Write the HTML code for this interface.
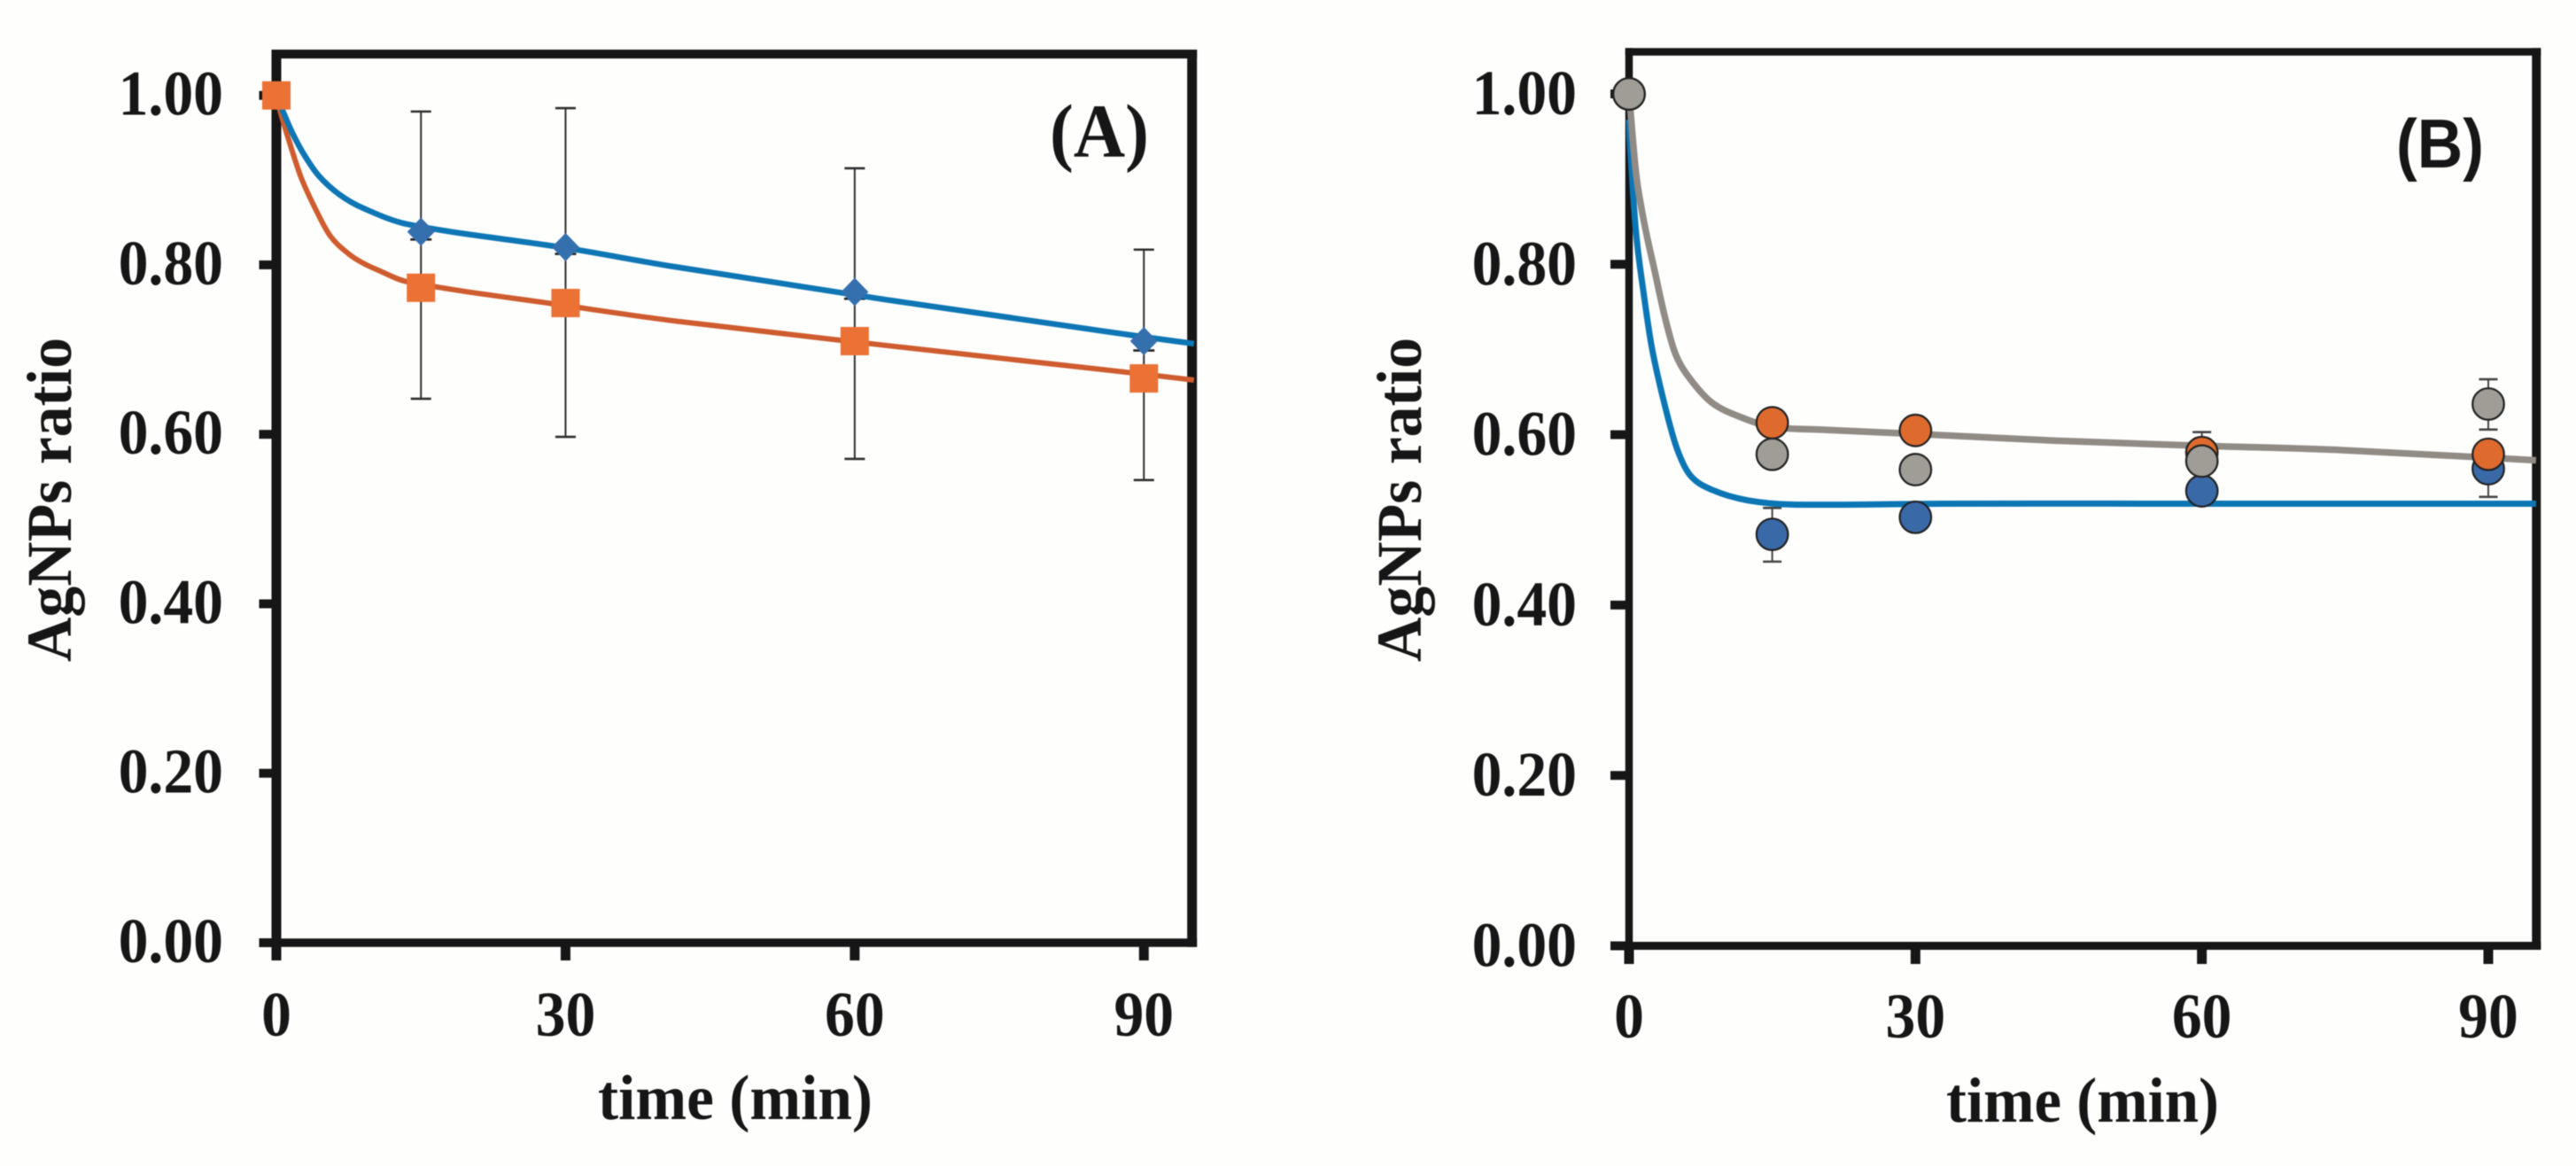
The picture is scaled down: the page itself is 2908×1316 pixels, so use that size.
<!DOCTYPE html>
<html lang="en">
<head>
<meta charset="utf-8">
<title>AgNPs ratio vs time</title>
<style>
html,body{margin:0;padding:0;background:#fefefd;}
body{width:2908px;height:1316px;overflow:hidden;}
svg{display:block;filter:blur(0.6px);}
text{font-family:"Liberation Serif",serif;font-weight:700;fill:#161616;}
</style>
</head>
<body>
<svg id="figure" xmlns="http://www.w3.org/2000/svg" width="2908" height="1316" viewBox="0 0 2908 1316"></svg>
<script>
/* Shared axis data */
const yTickValues = [0, 0.2, 0.4, 0.6, 0.8, 1.0];
const yTickLabels = ['0.00', '0.20', '0.40', '0.60', '0.80', '1.00'];
const xTickValues = [0, 30, 60, 90];
const xTickLabels = ['0', '30', '60', '90'];
const xAxisTitle = 'time (min)';
const yAxisTitle = 'AgNPs ratio';

/* Panel A data */
const timesA = [0, 15, 30, 60, 90];
const diamondValuesA = [1.0, 0.839, 0.821, 0.768, 0.710];
const squareValuesA = [1.0, 0.773, 0.755, 0.710, 0.666];
const errorTimesA = [15, 30, 60, 90];
const errorHighA = [0.981, 0.985, 0.914, 0.818];
const errorLowA = [0.642, 0.597, 0.571, 0.546];
const hiddenCapA = [0.830, 0.813, 0.760, 0.699];
const blueFitTimesA = [0, 0.58, 1.65, 2.88, 4.41, 6.55, 9, 13.6, 30, 41.2, 63.2, 90, 95.2];
const blueFitValuesA = [1.0, 0.984, 0.956, 0.930, 0.905, 0.883, 0.867, 0.848, 0.820, 0.798, 0.759, 0.715, 0.707];
const orangeFitTimesA = [0, 0.43, 1.35, 2.57, 4.1, 5.6, 7.5, 9, 10.5, 13.6, 30, 41.2, 63.2, 90, 95.2];
const orangeFitValuesA = [1.0, 0.980, 0.945, 0.903, 0.865, 0.834, 0.813, 0.802, 0.794, 0.780, 0.752, 0.734, 0.705, 0.671, 0.664];

/* Panel B data */
const timesB = [0, 15, 30, 60, 90];
const blueValuesB = [1.0, 0.483, 0.503, 0.534, 0.560];
const orangeValuesB = [1.0, 0.614, 0.605, 0.579, 0.577];
const greyValuesB = [1.0, 0.577, 0.559, 0.569, 0.636];
const blueErrorHighB = [null, 0.514, null, null, null];
const blueErrorLowB = [null, 0.451, null, null, 0.527];
const orangeErrorHighB = [null, null, null, 0.603, null];
const orangeErrorLowB = [null, null, null, null, null];
const greyErrorHighB = [null, null, null, null, 0.665];
const greyErrorLowB = [null, null, null, null, 0.606];
const blueFitTimesB = [0, 0.09, 0.71, 1.48, 2.41, 3.8, 5.04, 6.43, 8.75, 12.4, 17.2, 33, 60, 95];
const blueFitValuesB = [0.97, 0.944, 0.840, 0.770, 0.701, 0.632, 0.583, 0.552, 0.535, 0.523, 0.518, 0.519, 0.519, 0.519];
const greyFitTimesB = [0, 0.71, 1.33, 1.95, 2.57, 3.8, 4.89, 6.43, 8.75, 11.84, 15, 20, 31.7, 44.7, 60, 74.4, 95];
const greyFitValuesB = [1.0, 0.909, 0.864, 0.829, 0.798, 0.736, 0.694, 0.665, 0.637, 0.620, 0.609, 0.606, 0.600, 0.593, 0.587, 0.582, 0.570];

const NS = 'http://www.w3.org/2000/svg';
const svg = document.getElementById('figure');
const INK = '#161616';

function make(parent, tag, attrs) {
  const el = document.createElementNS(NS, tag);
  for (const k in attrs) el.setAttribute(k, attrs[k]);
  parent.appendChild(el);
  return el;
}

function scales(p) {
  return {
    sx: t => p.x0 + (t / 90) * (p.x90 - p.x0),
    sy: v => p.y0 + v * (p.y1 - p.y0)
  };
}

function smoothPath(xs, ys) {
  let d = 'M' + xs[0].toFixed(2) + ' ' + ys[0].toFixed(2);
  for (let i = 0; i < xs.length - 1; i++) {
    const a = Math.max(i - 1, 0), b = Math.min(i + 2, xs.length - 1);
    const k1 = (xs[i + 1] - xs[i]) / (xs[i + 1] - xs[a]) / 3;
    const k2 = (xs[i + 1] - xs[i]) / (xs[b] - xs[i]) / 3;
    const c1x = xs[i] + (xs[i + 1] - xs[a]) * k1, c1y = ys[i] + (ys[i + 1] - ys[a]) * k1;
    const c2x = xs[i + 1] - (xs[b] - xs[i]) * k2, c2y = ys[i + 1] - (ys[b] - ys[i]) * k2;
    d += 'C' + c1x.toFixed(2) + ' ' + c1y.toFixed(2) + ' ' + c2x.toFixed(2) + ' ' + c2y.toFixed(2) + ' ' + xs[i + 1].toFixed(2) + ' ' + ys[i + 1].toFixed(2);
  }
  return d;
}

function drawAxes(g, p) {
  const s = scales(p);
  const frame = make(g, 'g', {});
  
  
  const left = p.x0, right = p.xR, top = p.yT, bottom = p.y0;
  const w = p.frame;
  make(frame, 'rect', {x: left - w.l / 2, y: top - w.t / 2, width: w.l, height: bottom - top + w.b / 2 + w.t / 2, fill: INK});
  make(frame, 'rect', {x: right - w.r / 2, y: top - w.t / 2, width: w.r, height: bottom - top + w.b / 2 + w.t / 2, fill: INK});
  make(frame, 'rect', {x: left - w.l / 2, y: top - w.t / 2, width: right - left + w.l / 2 + w.r / 2, height: w.t, fill: INK});
  make(frame, 'rect', {x: left - w.l / 2, y: bottom - w.b / 2, width: right - left + w.l / 2 + w.r / 2, height: w.b, fill: INK});

  yTickValues.forEach((v, i) => {
    const tick = make(g, 'rect', {x: p.yTickEnd, y: s.sy(v) - 5, width: p.x0 - p.yTickEnd, height: 10, fill: INK});
    
    
    const label = make(g, 'text', {'text-anchor': 'end', 'font-size': 72, transform: 'translate(' + p.yLabelX + ',' + (s.sy(v) + p.yLabelDy) + ') scale(0.94,1)'});
    label.textContent = yTickLabels[i];
    
    
  });
  xTickValues.forEach((t, i) => {
    const tick = make(g, 'rect', {x: s.sx(t) - 5.5, y: p.y0, width: 11, height: p.xTickEnd - p.y0, fill: INK});
    
    
    const label = make(g, 'text', {'text-anchor': 'middle', 'font-size': 72, transform: 'translate(' + s.sx(t) + ',' + p.xLabelY + ') scale(0.94,1)'});
    label.textContent = xTickLabels[i];
    
    
  });

  const xt = make(g, 'text', {x: p.xTitleX, y: p.xTitleY, 'font-size': 72, textLength: p.xTitleLen, lengthAdjust: 'spacingAndGlyphs'});
  xt.textContent = xAxisTitle;
  
  
  const yt = make(g, 'text', {'text-anchor': 'start', 'font-size': 72, textLength: 366, lengthAdjust: 'spacingAndGlyphs', transform: 'translate(' + p.yTitleX + ',747) rotate(-90)'});
  yt.textContent = yAxisTitle;
  
  
}

function drawFit(g, p, ts, vs, color, width, name) {
  const s = scales(p);
  const path = make(g, 'path', {d: smoothPath(ts.map(s.sx), vs.map(s.sy)), fill: 'none', stroke: color, 'stroke-width': width, 'stroke-linejoin': 'round'});
  
  
}

function drawErrorBar(g, p, t, hi, lo, capW, color, lineW, name) {
  const s = scales(p);
  const x = s.sx(t);
  const bar = make(g, 'g', {stroke: color, fill: 'none'});
  
  
  make(bar, 'line', {x1: x, x2: x, y1: s.sy(hi), y2: s.sy(lo), 'stroke-width': lineW});
  make(bar, 'line', {x1: x - capW / 2, x2: x + capW / 2, y1: s.sy(hi), y2: s.sy(hi), 'stroke-width': lineW + 0.6});
  make(bar, 'line', {x1: x - capW / 2, x2: x + capW / 2, y1: s.sy(lo), y2: s.sy(lo), 'stroke-width': lineW + 0.6});
}

/* ---------- Panel A ---------- */
const panelA = {x0: 312, x90: 1291.3, xR: 1345.7, yT: 61, y0: 1064, y1: 107.7,
  frame: {l: 11, r: 11, t: 10, b: 9.5}, yTickEnd: 292.5, xTickEnd: 1084,
  yLabelX: 252, yLabelDy: 22, xLabelY: 1169, xTitleX: 675, xTitleY: 1263, xTitleLen: 310, yTitleX: 80};
const groupA = make(svg, 'g', {});


drawAxes(groupA, panelA);
const scaleA = scales(panelA);

errorTimesA.forEach((t, i) => {
  drawErrorBar(groupA, panelA, t, errorHighA[i], errorLowA[i], 23, '#2e2e2e', 2, 'error-bar-a');
  const x = scaleA.sx(t), y = scaleA.sy(hiddenCapA[i]);
  const cap = make(groupA, 'line', {x1: x - 12, x2: x + 12, y1: y, y2: y, stroke: '#222', 'stroke-width': 2.6});
  
  
});
drawFit(groupA, panelA, orangeFitTimesA, orangeFitValuesA, '#CE5C2E', 6, 'orange-fit-curve-a');
drawFit(groupA, panelA, blueFitTimesA, blueFitValuesA, '#0E76B4', 6.5, 'blue-fit-curve-a');

timesA.forEach((t, i) => {
  const x = scaleA.sx(t), y = scaleA.sy(diamondValuesA[i]);
  const m = make(groupA, 'path', {d: 'M' + x + ' ' + (y - 16) + 'L' + (x + 15.5) + ' ' + y + 'L' + x + ' ' + (y + 16) + 'L' + (x - 15.5) + ' ' + y + 'Z', fill: '#3570AE'});
  
  
});
timesA.forEach((t, i) => {
  const x = scaleA.sx(t), y = scaleA.sy(squareValuesA[i]);
  const m = make(groupA, 'rect', {x: x - 16, y: y - 16, width: 32, height: 32, fill: '#EB7135'});
  
  
});
const labelA = make(groupA, 'text', {x: 1185, y: 177, 'font-size': 86, textLength: 112, lengthAdjust: 'spacingAndGlyphs'});
labelA.textContent = '(A)';



/* ---------- Panel B ---------- */
const panelB = {x0: 1839, x90: 2809, xR: 2863.3, yT: 58.5, y0: 1067.5, y1: 106,
  frame: {l: 8.5, r: 10, t: 8.5, b: 9}, yTickEnd: 1818, xTickEnd: 1088,
  yLabelX: 1780, yLabelDy: 23, xLabelY: 1171, xTitleX: 2197, xTitleY: 1266, xTitleLen: 308, yTitleX: 1604};
const groupB = make(svg, 'g', {});


drawAxes(groupB, panelB);
const scaleB = scales(panelB);

timesB.forEach((t, i) => {
  if (blueErrorHighB[i] !== null || blueErrorLowB[i] !== null) {
    drawErrorBar(groupB, panelB, t, blueErrorHighB[i] === null ? blueValuesB[i] : blueErrorHighB[i], blueErrorLowB[i] === null ? blueValuesB[i] : blueErrorLowB[i], 21, '#444', 2, 'blue-error-bar-b');
  }
  if (orangeErrorHighB[i] !== null || orangeErrorLowB[i] !== null) {
    drawErrorBar(groupB, panelB, t, orangeErrorHighB[i] === null ? orangeValuesB[i] : orangeErrorHighB[i], orangeErrorLowB[i] === null ? orangeValuesB[i] : orangeErrorLowB[i], 21, '#444', 2, 'orange-error-bar-b');
  }
  if (greyErrorHighB[i] !== null || greyErrorLowB[i] !== null) {
    drawErrorBar(groupB, panelB, t, greyErrorHighB[i] === null ? greyValuesB[i] : greyErrorHighB[i], greyErrorLowB[i] === null ? greyValuesB[i] : greyErrorLowB[i], 21, '#444', 2, 'grey-error-bar-b');
  }
});
drawFit(groupB, panelB, blueFitTimesB, blueFitValuesB, '#0C76B5', 7, 'blue-fit-curve-b');
drawFit(groupB, panelB, greyFitTimesB, greyFitValuesB, '#918B85', 7.5, 'grey-fit-curve-b');

timesB.forEach((t, i) => {
  const m = make(groupB, 'circle', {cx: scaleB.sx(t), cy: scaleB.sy(blueValuesB[i]), r: 17.8, fill: '#3A69A8', stroke: '#222', 'stroke-width': 2.2});
  
  
});
timesB.forEach((t, i) => {
  const m = make(groupB, 'circle', {cx: scaleB.sx(t), cy: scaleB.sy(orangeValuesB[i]), r: 17.8, fill: '#DE6A2E', stroke: '#222', 'stroke-width': 2.2});
  
  
});
timesB.forEach((t, i) => {
  const m = make(groupB, 'circle', {cx: scaleB.sx(t), cy: scaleB.sy(greyValuesB[i]), r: 17.8, fill: '#A09C96', stroke: '#222', 'stroke-width': 2.2});
  
  
});
const labelB = make(groupB, 'text', {x: 2705, y: 189, 'font-size': 78, textLength: 99, lengthAdjust: 'spacingAndGlyphs', style: 'font-family:"Liberation Sans",sans-serif'});
labelB.textContent = '(B)';


</script>
</body>
</html>
